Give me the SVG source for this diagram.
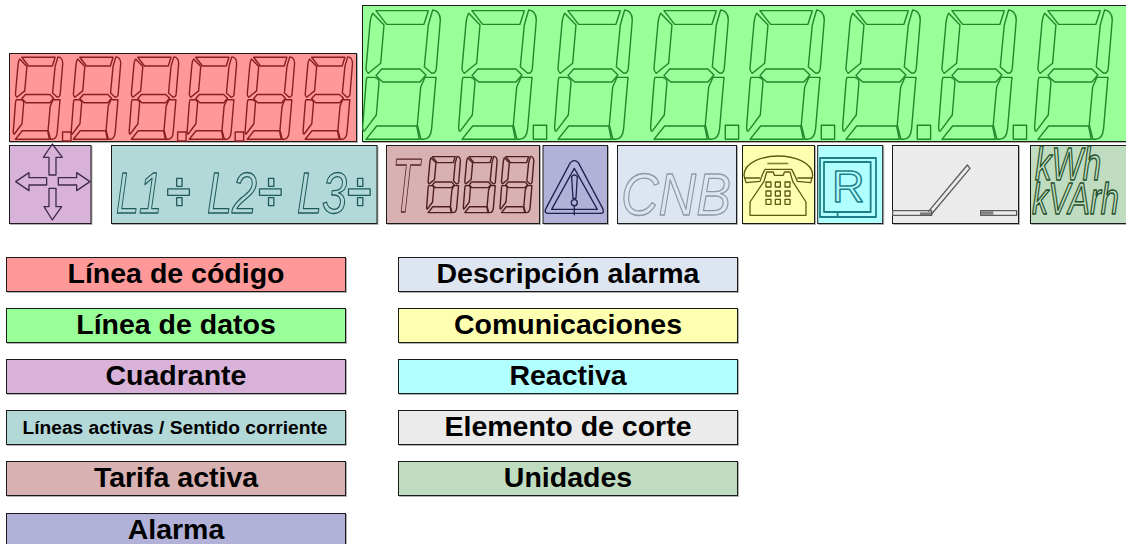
<svg xmlns="http://www.w3.org/2000/svg" width="1126" height="544" viewBox="0 0 1126 544">
<style>
.box{stroke:#1a1a1a;stroke-width:1;filter:drop-shadow(1px 1px 0 rgba(0,0,0,.3))}
.seg{fill:none;stroke:currentColor;stroke-width:1.4;stroke-linejoin:round;vector-effect:non-scaling-stroke}
.seg *{vector-effect:non-scaling-stroke}
.ol{fill:none;stroke:currentColor;stroke-width:1.3;stroke-linejoin:round;font-family:"Liberation Sans",Arial,sans-serif;font-style:italic}
.ol *{vector-effect:non-scaling-stroke}
.up{font-style:normal}
.lab{font-family:"Liberation Sans",Arial,sans-serif;font-weight:bold;font-size:28.5px;text-anchor:middle;fill:#000}
.small{font-size:19.2px}
.solid{fill:currentColor;fill-opacity:.75;stroke:none}
</style>
<defs>
<g id="digit" class="seg">
<path d="M48,32H205L192,73H80Z"/>
<path d="M38,40L72,75L62,190L25,220Q18,215 18,205L30,70Q32,50 38,40Z"/>
<path d="M205,75L218,30Q240,32 241,60L229,205Q228,220 215,220L193,200Z"/>
<path d="M65,207H180L198,225L180,246H68L48,227Z"/>
<path d="M22,232H42Q58,234 57,248L49,345L14,392Q8,398 8,380L18,250Q19,235 22,232Z"/>
<path d="M195,232H228L215,385Q212,418 190,418H183L172,375L182,262Z"/>
<path d="M18,418L50,378H170L178,418Z"/>
</g>
<rect id="dot" class="seg" x="520" y="376" width="40" height="42"/>
<g id="div" class="ol up">
<rect x="0" y="32" width="65" height="19"/>
<rect x="27" y="0" width="16" height="24"/>
<rect x="27" y="58" width="16" height="24"/>
</g>
</defs>

<g id="linea-codigo" color="#8a1f1f">
<rect class="box" x="9.500" y="53.500" width="347" height="88" fill="#ff9999"/>
<g transform="translate(11.600,50.500) scale(.2123)">
<use href="#digit"/><use href="#dot" x="-280" y="8"/>
<use href="#digit" x="273"/>
<use href="#digit" x="546"/><use href="#dot" x="262" y="8"/>
<use href="#digit" x="819"/><use href="#dot" x="533" y="8"/>
<use href="#digit" x="1092"/>
<use href="#digit" x="1365"/>
</g>
</g>

<g id="linea-datos" color="#22862a">
<rect class="box" x="362.500" y="5.500" width="770" height="136" fill="#99ff99"/>
<g transform="translate(360,0) scale(.3333)">
<use href="#digit"/>
<use href="#digit" x="288"/><use href="#dot" x="0"/>
<use href="#digit" x="576"/>
<use href="#digit" x="864"/><use href="#dot" x="576"/>
<use href="#digit" x="1152"/><use href="#dot" x="864"/>
<use href="#digit" x="1440"/><use href="#dot" x="1152"/>
<use href="#digit" x="1728"/><use href="#dot" x="1440"/>
<use href="#digit" x="2016"/>
</g>
</g>

<g id="cuadrante" color="#3f2a4f">
<rect class="box" x="9.500" y="145.500" width="81.500" height="78" fill="#d8b2d8"/>
<g class="ol up" transform="translate(0,140) scale(.3333)">
<path d="M157,12L187,52H168V105H147V52H130Z"/>
<path d="M157,240L185,200H168V145H147V200H132Z"/>
<path d="M47,125L87,98V113H140V135H87V152Z"/>
<path d="M270,125L230,98V113H175V135H230V152Z"/>
</g>
</g>

<g id="lineas-activas" color="#1f5a5a">
<rect class="box" x="111.500" y="145.500" width="265.500" height="78" fill="#b2d8d8"/>
<g class="ol">
<text x="116" y="212.500" font-size="58" textLength="46" lengthAdjust="spacingAndGlyphs">L1</text>
<text x="207" y="212.500" font-size="58" textLength="50" lengthAdjust="spacingAndGlyphs">L2</text>
<text x="297" y="212.500" font-size="58" textLength="50" lengthAdjust="spacingAndGlyphs">L3</text>
</g>
<use href="#div" transform="translate(167.700,178.300) scale(.3333)"/>
<use href="#div" transform="translate(259.500,178.300) scale(.3333)"/>
<use href="#div" transform="translate(348.500,178.300) scale(.3333)"/>
</g>

<g id="tarifa-activa" color="#4f1f1f">
<rect class="box" x="386.500" y="145.500" width="153" height="78" fill="#d8b2b2"/>
<text class="ol" x="392" y="212" font-size="76" textLength="27" lengthAdjust="spacingAndGlyphs">T</text>
<g transform="translate(425.500,152) scale(.145)">
<use href="#digit"/><use href="#digit" x="253"/><use href="#digit" x="506"/>
</g>
</g>

<g id="alarma" color="#1f1f50">
<rect class="box" x="543" y="145.500" width="64.500" height="78" fill="#b2b2d8"/>
<g class="ol up" transform="translate(380,140) scale(.3333)">
<path d="M571,68Q583,56 595,68L668,205Q676,220 660,220H507Q490,220 498,205Z"/>
<path d="M583,85L652,208H515Z"/>
<path d="M575,110Q583,100 592,110L588,175H579Z"/>
<circle cx="583" cy="188" r="9"/>
<path d="M583,197V226"/>
</g>
</g>

<g id="descripcion-alarma" color="#8f97a3">
<rect class="box" x="617.500" y="145.500" width="119" height="78" fill="#dde5f0"/>
<text class="ol" x="621" y="215" font-size="60" textLength="110" lengthAdjust="spacingAndGlyphs">CNB</text>
</g>

<g id="comunicaciones" color="#5c5a10">
<rect class="box" x="742.500" y="145.500" width="72" height="78" fill="#ffffb2"/>
<g class="ol up" transform="translate(740,142) scale(.3333)">
<path d="M12,100C12,60 70,42 115,42C160,42 218,60 218,100L212,122L172,118Q165,100 155,82H75Q65,100 60,118L18,122Z"/>
<rect class="solid" x="82" y="62" width="63" height="5"/>
<path d="M72,118L80,90H100L103,100H130L133,90H150L158,118L198,180V220H30V180Z"/>
<path d="M12,108H60M172,108H218"/>
<rect x="78" y="120" width="15" height="15"/><rect x="106" y="120" width="15" height="15"/><rect x="135" y="120" width="15" height="15"/>
<rect x="78" y="147" width="15" height="15"/><rect x="106" y="147" width="15" height="15"/><rect x="135" y="147" width="15" height="15"/>
<rect x="78" y="172" width="15" height="15"/><rect x="106" y="172" width="15" height="15"/><rect x="135" y="172" width="15" height="15"/>
</g>
</g>

<g id="reactiva" color="#1f7f88">
<rect class="box" x="817.700" y="145.500" width="65" height="78" fill="#b2ffff"/>
<g class="ol up" transform="translate(740,142) scale(.3333)" style="stroke-width:1.8">
<rect x="240" y="48" width="168" height="177"/>
<rect x="252" y="60" width="140" height="150"/>
<path d="M293,210V225"/>
</g>
<text class="ol up" x="832" y="202" font-size="45" style="stroke-width:1.5">R</text>
</g>

<g id="elemento-corte" color="#5c5c5c">
<rect class="box" x="892.500" y="145.500" width="126" height="78" fill="#ebebeb"/>
<g class="ol up" transform="translate(740,140) scale(.3333)">
<rect x="458" y="212" width="117" height="14"/>
<rect x="722" y="212" width="108" height="14"/>
<path d="M565,215L682,75L690,85L575,222"/>
<rect class="solid" x="540" y="217" width="35" height="9"/>
<rect class="solid" x="724" y="214" width="36" height="10"/>
</g>
</g>

<g id="unidades" color="#1f4f28">
<rect class="box" x="1030.500" y="145.500" width="100" height="78" fill="#c0dcc0"/>
<g class="ol">
<text transform="translate(1035,180) scale(.72,1)" font-size="46">kWh</text>
<text transform="translate(1032,214) scale(.74,1)" font-size="44">kVArh</text>
</g>
</g>

<g id="leyenda-linea-codigo"><rect class="box" x="6.500" y="257.500" width="339" height="34" fill="#ff9999"/><text class="lab" x="176" y="283">Línea de código</text></g>
<g id="leyenda-linea-datos"><rect class="box" x="6.500" y="308.500" width="339" height="34" fill="#99ff99"/><text class="lab" x="176" y="334">Línea de datos</text></g>
<g id="leyenda-cuadrante"><rect class="box" x="6.500" y="359.500" width="339" height="34" fill="#d8b2d8"/><text class="lab" x="176" y="385">Cuadrante</text></g>
<g id="leyenda-lineas-activas"><rect class="box" x="6.500" y="410.500" width="339" height="34" fill="#b2d8d8"/><text class="lab small" x="175" y="434">Líneas activas / Sentido corriente</text></g>
<g id="leyenda-tarifa"><rect class="box" x="6.500" y="461.500" width="339" height="34" fill="#d8b2b2"/><text class="lab" x="176" y="487">Tarifa activa</text></g>
<g id="leyenda-alarma"><rect class="box" x="6.500" y="513.500" width="339" height="34" fill="#b2b2d8"/><text class="lab" x="176" y="539">Alarma</text></g>
<g id="leyenda-descripcion"><rect class="box" x="398.500" y="257.500" width="339" height="34" fill="#dde5f0"/><text class="lab" x="568" y="283">Descripción alarma</text></g>
<g id="leyenda-comunicaciones"><rect class="box" x="398.500" y="308.500" width="339" height="34" fill="#ffffb2"/><text class="lab" x="568" y="334">Comunicaciones</text></g>
<g id="leyenda-reactiva"><rect class="box" x="398.500" y="359.500" width="339" height="34" fill="#b2ffff"/><text class="lab" x="568" y="385">Reactiva</text></g>
<g id="leyenda-corte"><rect class="box" x="398.500" y="410.500" width="339" height="34" fill="#ebebeb"/><text class="lab" x="568" y="436">Elemento de corte</text></g>
<g id="leyenda-unidades"><rect class="box" x="398.500" y="461.500" width="339" height="34" fill="#c0dcc0"/><text class="lab" x="568" y="487">Unidades</text></g>
</svg>
